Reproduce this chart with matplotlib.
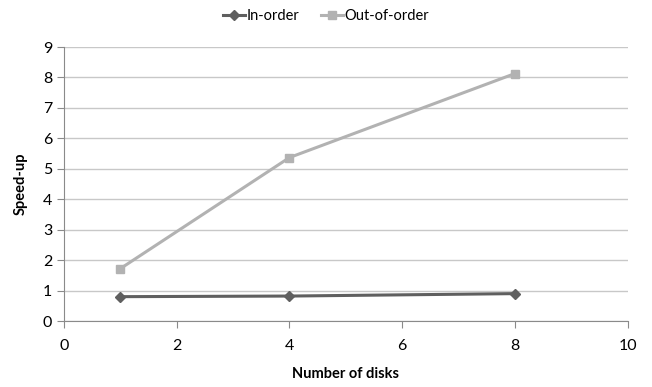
import matplotlib
matplotlib.use("Agg")
import matplotlib.pyplot as plt

plt.rcParams['font.family'] = ['Lato', 'DejaVu Sans']

disks = [1, 4, 8]
in_order = [0.80, 0.82, 0.90]
out_of_order = [1.72, 5.37, 8.13]
x_ticks = [0, 2, 4, 6, 8, 10]
y_ticks = list(range(0, 10))

fig = plt.figure(figsize=(6.52, 3.87), dpi=100)
ax = fig.add_axes([0.098, 0.1705, 0.865, 0.708])

ax.plot(disks, in_order, color='#5f5f5f', lw=2.2, marker='D', ms=5,
        label='In-order', zorder=3)
ax.plot(disks, out_of_order, color='#b2b2b2', lw=2.2, marker='s', ms=6,
        label='Out-of-order', zorder=3)

ax.set_xlim(0, 10)
ax.set_ylim(0, 9)
ax.set_xticks(x_ticks)
ax.set_yticks(y_ticks)
ax.grid(axis='y', color='#c8c8c8', lw=1)
ax.set_axisbelow(True)
for s in ['top', 'right']:
    ax.spines[s].set_visible(False)
ax.spines['left'].set_color('#8a8a8a')
ax.spines['bottom'].set_color('#8a8a8a')
ax.tick_params(axis='both', colors='#8a8a8a', labelcolor='black', labelsize=11.5,
               length=5, direction='out')
ax.tick_params(axis='x', pad=8)
ax.set_xlabel('Number of disks', fontsize=10.5, fontweight='bold', labelpad=10)
ax.set_ylabel('Speed-up', fontsize=10.5, fontweight='bold', labelpad=11)

fig.legend(loc='upper center', bbox_to_anchor=(0.5, 1.01), ncol=2, frameon=False,
           fontsize=10.5, handlelength=1.5, handletextpad=0.1, columnspacing=1.5)

fig.savefig('out.png', dpi=100)
